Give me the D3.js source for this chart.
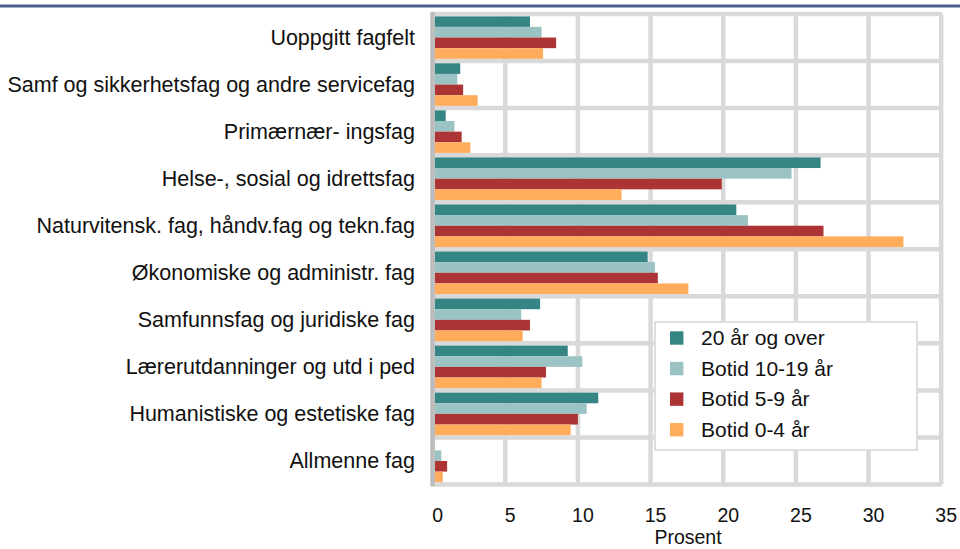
<!DOCTYPE html>
<html>
<head>
<meta charset="utf-8">
<script src="https://cdn.jsdelivr.net/npm/d3@7"></script>
<style>
  body { margin: 0; background: #fff; }
  svg { display: block; font-family: "Liberation Sans", Arial, sans-serif; }
  .grid line { stroke: #d9d9d9; stroke-width: 4.5; }
  .cat text, .tick-label, .legend text, .axis-title { fill: #111; }
</style>
</head>
<body>
<svg width="960" height="549"></svg>
<script>
// categories top to bottom
var categories = [
  "Uoppgitt fagfelt",
  "Samf og sikkerhetsfag og andre servicefag",
  "Primærnær- ingsfag",
  "Helse-, sosial og idrettsfag",
  "Naturvitensk. fag, håndv.fag og tekn.fag",
  "Økonomiske og administr. fag",
  "Samfunnsfag og juridiske fag",
  "Lærerutdanninger og utd i ped",
  "Humanistiske og estetiske fag",
  "Allmenne fag"
];
var seriesNames = ["20 år og over", "Botid 10-19 år", "Botid 5-9 år", "Botid 0-4 år"];
var colors = ["#358585", "#9bc3c3", "#ad3434", "#ffad5c"];

var s20 = [6.7, 1.9, 0.9, 26.7, 20.9, 14.8, 7.4, 9.3, 11.4, 0.0];
var s10 = [7.5, 1.7, 1.5, 24.7, 21.7, 15.3, 6.1, 10.3, 10.6, 0.6];
var s5  = [8.5, 2.1, 2.0, 19.9, 26.9, 15.5, 6.7, 7.8, 10.0, 1.0];
var s0  = [7.6, 3.1, 2.6, 13.0, 32.4, 17.6, 6.2, 7.5, 9.5, 0.7];
var xTicks = [0, 5, 10, 15, 20, 25, 30, 35];

var series = [s20, s10, s5, s0];

var svg = d3.select("svg");

var x = d3.scaleLinear().domain([0, 35]).range([432.6, 941.2]);
var y = d3.scaleBand().domain(categories).range([14, 484.5]);
var gridW = 4.5;
var yInner = d3.scaleBand().domain(d3.range(4))
  .range([gridW / 2, y.bandwidth() - gridW / 2]);

// top rule
svg.append("rect").attr("x", 0).attr("y", 4.5).attr("width", 960).attr("height", 3)
  .attr("fill", "#4a5e8b");

// grid
var grid = svg.append("g").attr("class", "grid");
grid.selectAll(".v").data(xTicks.slice(1, -1)).enter().append("line")
  .attr("x1", function(d) { return x(d); }).attr("x2", function(d) { return x(d); })
  .attr("y1", y.range()[0]).attr("y2", y.range()[1]);
grid.selectAll(".h").data(categories.slice(1)).enter().append("line")
  .attr("x1", x(0)).attr("x2", x(35))
  .attr("y1", function(d) { return y(d); }).attr("y2", function(d) { return y(d); });

// bars
var groups = svg.append("g").selectAll("g").data(categories).enter().append("g")
  .attr("transform", function(d) { return "translate(0," + y(d) + ")"; });
groups.selectAll("rect").data(function(d, i) {
    return series.map(function(s, j) { return {v: s[i], j: j}; });
  }).enter().append("rect")
  .attr("x", x(0))
  .attr("y", function(d) { return yInner(d.j); })
  .attr("width", function(d) { return x(d.v) - x(0); })
  .attr("height", yInner.bandwidth())
  .attr("fill", function(d) { return colors[d.j]; });

// frame
svg.append("rect")
  .attr("x", x(0)).attr("y", y.range()[0])
  .attr("width", x(35) - x(0)).attr("height", y.range()[1] - y.range()[0])
  .attr("rx", 2).attr("fill", "none").attr("stroke", "#d9d9d9").attr("stroke-width", 4.5);
svg.append("line")
  .attr("x1", x(0)).attr("x2", x(0))
  .attr("y1", y.range()[0] - 2).attr("y2", y.range()[1] + 2)
  .attr("stroke", "#bdbdbd").attr("stroke-width", 4.5);

// category labels
svg.append("g").attr("class", "cat").selectAll("text").data(categories).enter().append("text")
  .attr("x", 415)
  .attr("y", function(d) { return y(d) + y.bandwidth() / 2; })
  .attr("dy", "0.33em")
  .attr("text-anchor", "end")
  .style("font-size", "21.5px")
  .text(function(d) { return d; });

// x tick labels
svg.append("g").selectAll("text").data(xTicks).enter().append("text")
  .attr("class", "tick-label")
  .attr("x", function(d) { return x(d) + 5; })
  .attr("y", 521.7)
  .attr("text-anchor", "middle")
  .style("font-size", "19.5px")
  .text(function(d) { return d; });

svg.append("text").attr("class", "axis-title")
  .attr("x", 688).attr("y", 544)
  .attr("text-anchor", "middle")
  .style("font-size", "19.5px")
  .text("Prosent");

// legend
var legend = svg.append("g").attr("class", "legend");
legend.append("rect").attr("x", 655).attr("y", 322).attr("width", 262).attr("height", 128)
  .attr("fill", "#fff").attr("stroke", "#dedede").attr("stroke-width", 2);
var ly = d3.scalePoint().domain(seriesNames).range([338, 429.7]);
var items = legend.selectAll("g").data(seriesNames).enter().append("g")
  .attr("transform", function(d) { return "translate(670," + ly(d) + ")"; });
items.append("rect").attr("x", 0).attr("y", -6.7).attr("width", 13.4).attr("height", 13.4)
  .attr("fill", function(d, i) { return colors[i]; });
items.append("text").attr("x", 31).attr("dy", "0.35em")
  .style("font-size", "21px")
  .text(function(d) { return d; });
</script>
</body>
</html>
